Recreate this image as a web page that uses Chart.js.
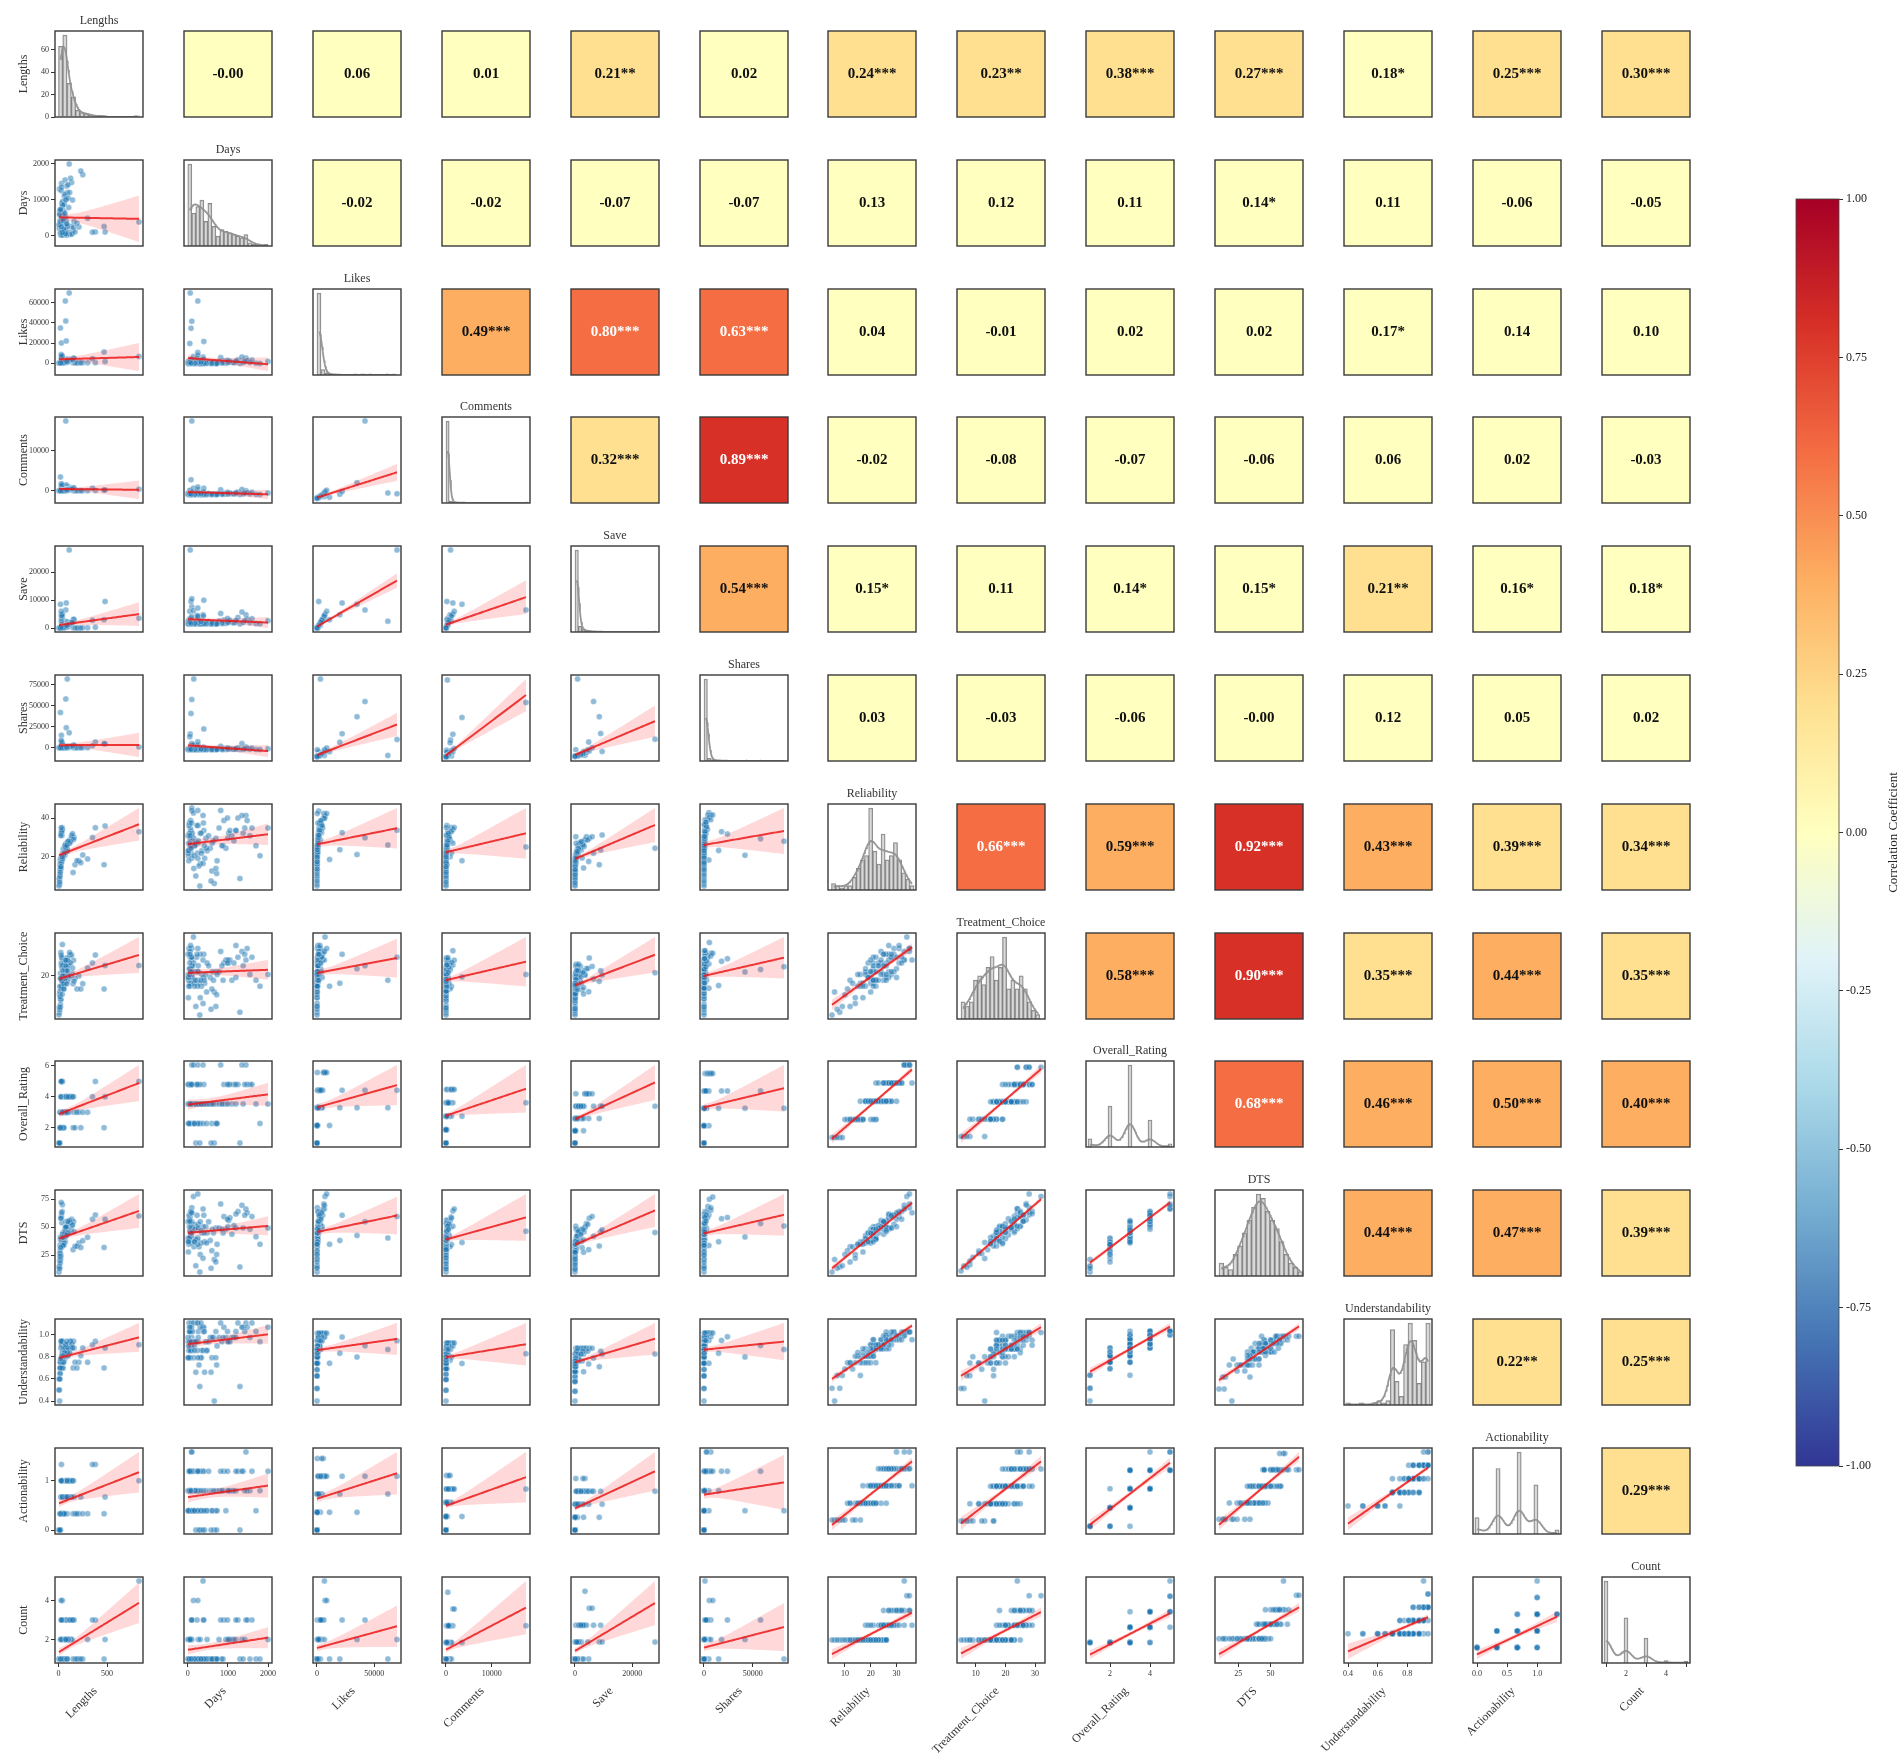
<!DOCTYPE html>
<html lang="en">
<head>
<meta charset="UTF-8">
<title>Pair plot with correlation coefficients</title>
<script src="https://cdn.jsdelivr.net/npm/chart.js"></script>
<style>
  body { margin: 0; background: #fff; }
  #figure { position: relative; width: 1902px; height: 1753px; overflow: hidden; }
  #figure canvas { position: absolute; }
</style>
</head>
<body>
<div id="figure"></div>
<script>
const varNames = ['Lengths', 'Days', 'Likes', 'Comments', 'Save', 'Shares', 'Reliability',
  'Treatment_Choice', 'Overall_Rating', 'DTS', 'Understandability', 'Actionability', 'Count'];

// one value per video, same order in every array
const lengths = [110, 70, 75, 20, 30, 80, 480, 90, 830, 380,
  150, 60, 20, 35, 70, 15, 95, 55, 10, 120,
  48, 210, 30, 65, 25, 80, 40, 140, 75, 22,
  12, 110, 52, 68, 300, 38, 45, 18, 90, 62,
  28, 170, 58, 42, 130, 14, 85, 50, 33, 160,
  66, 8, 72, 250, 40, 26, 105, 46, 55, 78,
  30, 135, 60, 88, 5, 100, 36, 64, 155, 20,
  44, 70, 32, 190, 82, 16, 58, 125, 38, 24,
  470, 76, 50, 115, 11, 350, 42, 68, 92, 18,
  98, 54, 28, 230, 74, 62, 145, 40, 86, 22];
const days = [60, 250, 100, 80, 50, 400, 100, 150, 380, 100,
  150, 1100, 350, 900, 220, 420, 80, 60, 1300, 30,
  700, 240, 1450, 90, 310, 1020, 560, 40, 120, 15,
  660, 2000, 180, 1550, 480, 820, 20, 280, 1200, 50,
  1250, 100, 450, 950, 260, 600, 1380, 75, 10, 390,
  1150, 200, 520, 1700, 140, 25, 780, 65, 45, 310,
  160, 1480, 880, 55, 300, 1050, 12, 640, 230, 380,
  850, 110, 1350, 340, 5, 720, 190, 1600, 470, 70,
  250, 1000, 410, 1200, 580, 95, 20, 40, 260, 700,
  1420, 170, 250, 1800, 55, 610, 990, 85, 330, 730];
const likes = [70000, 62000, 42000, 35000, 20000, 22000, 1500, 3000, 6500, 300,
  300, 1200, 80, 2500, 600, 150, 4000, 900, 50, 1800,
  450, 200, 5500, 700, 120, 1500, 350, 3200, 800, 60,
  30, 2200, 500, 1000, 250, 6000, 400, 90, 1300, 650,
  3800, 180, 750, 420, 2800, 70, 1100, 550, 230, 4500,
  850, 40, 1600, 380, 7000, 130, 2000, 480, 310, 1400,
  220, 3000, 600, 1700, 20, 2400, 340, 950, 5000, 110,
  520, 1250, 6500, 160, 1900, 45, 720, 3500, 270, 800,
  11000, 1050, 390, 2600, 25, 4200, 640, 1350, 880, 75,
  2100, 460, 8500, 190, 1150, 560, 3300, 290, 1600, 140];
const comments = [1000, 1200, 17500, 3500, 900, 1500, 200, 300, 400, 100,
  20, 150, 5, 300, 60, 10, 500, 90, 3, 250,
  40, 15, 900, 70, 8, 200, 30, 450, 80, 4,
  2, 350, 45, 120, 18, 1100, 35, 6, 180, 55,
  600, 12, 75, 38, 400, 5, 140, 50, 20, 700,
  95, 3, 220, 30, 1500, 9, 310, 42, 25, 190,
  16, 480, 52, 260, 1, 380, 28, 110, 800, 7,
  48, 170, 1200, 11, 290, 2, 65, 550, 22, 85,
  200, 130, 33, 420, 2, 650, 58, 160, 100, 5,
  340, 40, 1800, 14, 150, 60, 520, 24, 230, 10];
const saves = [28000, 2500, 6500, 8500, 4800, 9000, 9500, 900, 3500, 300,
  100, 600, 30, 1500, 250, 60, 2200, 400, 20, 900,
  180, 70, 3500, 300, 40, 800, 150, 1800, 350, 25,
  10, 1200, 220, 500, 90, 4000, 160, 35, 700, 280,
  2500, 65, 330, 170, 1600, 30, 550, 240, 95, 3000,
  380, 15, 850, 140, 5000, 50, 1100, 200, 120, 750,
  85, 1900, 260, 950, 8, 1400, 130, 450, 3200, 45,
  230, 650, 4500, 60, 1000, 18, 300, 2000, 110, 420,
  3000, 520, 150, 1300, 12, 2800, 280, 700, 380, 28,
  1200, 190, 6000, 75, 600, 250, 2100, 120, 900, 55];
const shares = [18000, 1000, 58000, 42000, 15000, 24000, 5000, 82000, 1000, 7000,
  50, 400, 10, 1200, 150, 20, 2000, 250, 5, 700,
  90, 30, 3000, 200, 15, 600, 80, 1500, 220, 8,
  3, 900, 120, 350, 40, 4000, 100, 12, 500, 180,
  2200, 25, 260, 110, 1300, 10, 400, 160, 45, 2600,
  280, 6, 650, 90, 5500, 20, 850, 130, 60, 550,
  35, 1700, 170, 700, 2, 1100, 70, 300, 3500, 18,
  140, 480, 7000, 28, 800, 4, 190, 1800, 55, 330,
  5000, 380, 85, 1000, 3, 2400, 160, 520, 260, 9,
  900, 110, 9000, 30, 420, 150, 1900, 65, 600, 22];
const reliability = [28, 22, 25, 18, 20, 27, 36, 24, 33, 35,
  12, 25, 19, 31, 22, 16, 27, 21, 8, 29,
  24, 18, 33, 21, 14, 26, 20, 30, 23, 17,
  6, 28, 21, 25, 19, 35, 22, 13, 27, 21,
  32, 16, 24, 20, 29, 11, 26, 21, 18, 30,
  23, 9, 25, 21, 34, 15, 28, 20, 22, 26,
  17, 31, 21, 24, 5, 27, 19, 23, 29, 14,
  21, 26, 33, 18, 25, 10, 22, 28, 20, 31,
  16, 24, 21, 27, 7, 30, 19, 26, 23, 12,
  28, 21, 35, 17, 25, 22, 32, 20, 26, 15];
const treatmentChoice = [25, 17, 22, 21, 16, 26, 24, 23, 24, 28,
  17, 17, 19, 23, 25, 16, 20, 21, 6, 28,
  20, 20, 24, 25, 11, 23, 18, 21, 22, 11,
  13, 19, 20, 19, 23, 27, 17, 16, 18, 23,
  25, 19, 19, 24, 20, 14, 22, 16, 19, 18,
  23, 8, 22, 17, 32, 15, 20, 20, 15, 26,
  16, 28, 17, 27, 5, 24, 18, 17, 26, 9,
  22, 18, 27, 15, 26, 12, 17, 25, 13, 29,
  15, 24, 17, 29, 7, 25, 18, 19, 22, 8,
  26, 15, 28, 15, 26, 20, 23, 20, 17, 19];
const overallRating = [4, 3, 4, 3, 3, 4, 4, 3, 5, 5,
  2, 3, 3, 4, 4, 3, 3, 3, 1, 4,
  3, 3, 5, 3, 2, 4, 3, 4, 3, 2,
  1, 3, 3, 4, 3, 5, 2, 2, 3, 3,
  4, 2, 3, 3, 4, 2, 3, 3, 3, 3,
  4, 1, 3, 3, 5, 2, 3, 3, 2, 4,
  2, 4, 3, 3, 1, 4, 3, 3, 4, 2,
  3, 3, 5, 3, 4, 2, 3, 4, 2, 4,
  2, 3, 3, 4, 1, 4, 3, 3, 3, 2,
  4, 2, 5, 2, 3, 3, 4, 3, 3, 2];
const dts = [54, 37, 50, 39, 35, 55, 57, 48, 60, 61,
  30, 40, 41, 54, 46, 34, 44, 43, 14, 55,
  45, 36, 60, 46, 24, 51, 35, 52, 45, 26,
  20, 45, 44, 44, 41, 64, 36, 30, 45, 42,
  58, 33, 46, 44, 48, 27, 45, 38, 37, 46,
  47, 15, 50, 38, 70, 32, 45, 41, 37, 50,
  34, 57, 41, 51, 10, 53, 34, 41, 55, 21,
  44, 42, 63, 33, 50, 24, 36, 54, 33, 58,
  32, 46, 41, 56, 13, 57, 34, 46, 45, 18,
  55, 34, 72, 32, 50, 44, 52, 41, 43, 32];
const understandability = [0.88, 0.81, 0.84, 0.75, 0.78, 0.91, 0.88, 0.81, 0.91, 0.94,
  0.7, 0.84, 0.75, 0.91, 0.81, 0.6, 0.88, 0.81, 0.5, 0.94,
  0.88, 0.75, 0.94, 0.78, 0.7, 0.81, 0.84, 0.91, 0.81, 0.7,
  0.4, 0.91, 0.81, 0.84, 0.75, 0.94, 0.7, 0.65, 0.88, 0.81,
  0.94, 0.75, 0.81, 0.84, 0.88, 0.7, 0.91, 0.75, 0.81, 0.88,
  0.84, 0.6, 0.81, 0.88, 0.94, 0.75, 0.84, 0.7, 0.81, 0.91,
  0.78, 0.91, 0.84, 0.88, 0.5, 0.81, 0.7, 0.84, 0.94, 0.75,
  0.81, 0.88, 0.91, 0.7, 0.84, 0.65, 0.81, 0.94, 0.75, 0.88,
  0.7, 0.81, 0.88, 0.84, 0.6, 0.91, 0.78, 0.88, 0.84, 0.7,
  0.88, 0.75, 0.94, 0.81, 0.91, 0.84, 0.88, 0.81, 0.94, 0.78];
const actionability = [1, 0.67, 1, 0.33, 0.67, 1, 0.67, 0.33, 1, 1.33,
  0.33, 0.67, 0.33, 1, 0.67, 0, 1, 0.67, 0, 1,
  0.67, 0.33, 1.33, 0.33, 0.33, 0.67, 0.67, 1, 0.67, 0.33,
  0, 1, 0.67, 0.67, 0.33, 1, 0.33, 0, 0.67, 0.67,
  1, 0.33, 0.67, 0.33, 0.67, 0.33, 1, 0.67, 0.33, 0.67,
  0.67, 0, 1, 0.33, 1, 0.33, 0.67, 0.67, 0.33, 1,
  0.33, 0.67, 0.67, 1, 0, 0.67, 0.33, 0.67, 1, 0,
  0.67, 0.33, 1, 0.33, 0.67, 0, 0.67, 1, 0.33, 0.67,
  0.33, 0.67, 0.33, 1, 0, 1.33, 0.67, 0.67, 1, 0.33,
  0.67, 0.33, 1, 0.67, 0.67, 0.33, 1, 0.67, 0.67, 0.33];
const count = [2, 1, 3, 2, 1, 3, 2, 1, 5, 3,
  1, 2, 1, 3, 1, 1, 2, 1, 1, 2,
  1, 1, 3, 2, 1, 2, 1, 2, 1, 1,
  1, 2, 1, 1, 2, 3, 1, 1, 2, 1,
  3, 1, 1, 2, 2, 1, 1, 1, 1, 3,
  2, 1, 1, 1, 4, 1, 2, 1, 1, 2,
  1, 3, 1, 2, 1, 2, 1, 1, 3, 1,
  1, 1, 2, 1, 2, 1, 1, 3, 1, 2,
  1, 2, 1, 3, 1, 3, 1, 1, 1, 1,
  2, 1, 4, 1, 2, 1, 3, 1, 1, 1];
const columns = [lengths, days, likes, comments, saves, shares, reliability,
  treatmentChoice, overallRating, dts, understandability, actionability, count];

// diagonal histograms (bin counts)
const histStart = [0, 0, 0, 0, 0, 0, 4.8, 5, 0.9, 10, 0.385, -0.035, 0.9];
const histWidth = [44, 100, 3500, 700, 1200, 3500, 1.6, 1.4, 0.2, 3.6, 0.03, 0.07, 0.2];
const lengthsHist = [63, 73, 30, 18, 6, 4, 3, 2, 1, 1, 1, 0, 0, 0, 0, 0, 0, 0, 1];
const daysHist = [50, 20, 24, 28, 15, 26, 12, 6, 10, 9, 8, 7, 6, 5, 7, 2, 1, 1, 0, 1];
const likesHist = [180, 12, 4, 2, 1, 1, 0, 0, 0, 1, 0, 1, 0, 1, 0, 0, 0, 1, 0, 1];
const commentsHist = [192, 4, 2, 1, 1, 1, 0, 0, 0, 0, 0, 0, 0, 0, 0, 0, 0, 0, 0, 0, 0, 0, 0, 0, 0, 1];
const savesHist = [175, 12, 5, 3, 2, 1, 1, 1, 0, 0, 0, 0, 0, 0, 0, 0, 0, 0, 0, 0, 0, 0, 0, 1];
const sharesHist = [185, 6, 3, 2, 1, 1, 1, 0, 0, 0, 0, 0, 1, 0, 0, 0, 1, 0, 0, 0, 0, 0, 0, 1];
const reliabilityHist = [3, 2, 1, 2, 2, 6, 10, 14, 16, 38, 18, 12, 26, 14, 16, 22, 14, 8, 5, 2];
const treatmentHist = [8, 6, 8, 18, 20, 16, 24, 29, 18, 24, 38, 14, 18, 14, 20, 14, 8, 4, 2];
const ratingHist = [10, 0, 0, 0, 0, 50, 0, 0, 0, 0, 100, 0, 0, 0, 0, 33, 0, 0, 0, 0, 4];
const dtsHist = [6, 4, 3, 10, 14, 20, 26, 32, 38, 36, 30, 26, 22, 16, 10, 6, 4, 2];
const understandHist = [1, 0, 0, 1, 0, 0, 1, 2, 1, 2, 35, 11, 4, 28, 38, 30, 10, 20, 38];
const actionHist = [20, 0, 0, 0, 0, 80, 0, 0, 0, 0, 100, 0, 0, 0, 60, 0, 0, 0, 0, 5, 0];
const countHist = [105, 0, 0, 0, 0, 58, 0, 0, 0, 0, 32, 0, 0, 0, 0, 3, 0, 0, 0, 0, 2];
const histCounts = [lengthsHist, daysHist, likesHist, commentsHist, savesHist, sharesHist,
  reliabilityHist, treatmentHist, ratingHist, dtsHist, understandHist, actionHist, countHist];

// upper triangle: correlation and significance stars, row by row
const corrValues = [
  [-0.001, 0.06, 0.01, 0.21, 0.02, 0.24, 0.23, 0.38, 0.27, 0.18, 0.25, 0.30],
  [-0.02, -0.02, -0.07, -0.07, 0.13, 0.12, 0.11, 0.14, 0.11, -0.06, -0.05],
  [0.49, 0.796, 0.63, 0.04, -0.01, 0.02, 0.02, 0.17, 0.14, 0.10],
  [0.32, 0.89, -0.02, -0.08, -0.07, -0.06, 0.06, 0.02, -0.03],
  [0.54, 0.15, 0.11, 0.14, 0.15, 0.21, 0.16, 0.18],
  [0.03, -0.03, -0.06, -0.001, 0.12, 0.05, 0.02],
  [0.66, 0.59, 0.92, 0.43, 0.39, 0.34],
  [0.58, 0.90, 0.35, 0.44, 0.35],
  [0.68, 0.46, 0.50, 0.402],
  [0.44, 0.47, 0.39],
  [0.22, 0.25],
  [0.29]
];
const corrStars = [
  ['', '', '', '**', '', '***', '**', '***', '***', '*', '***', '***'],
  ['', '', '', '', '', '', '', '*', '', '', ''],
  ['***', '***', '***', '', '', '', '', '*', '', ''],
  ['***', '***', '', '', '', '', '', '', ''],
  ['***', '*', '', '*', '*', '**', '*', '*'],
  ['', '', '', '', '', '', ''],
  ['***', '***', '***', '***', '***', '***'],
  ['***', '***', '***', '***', '***'],
  ['***', '***', '***', '***'],
  ['***', '***', '***'],
  ['**', '***'],
  ['***']
];

// tick labels: left column (per row) and bottom row (per column)
const yTickLabels = [['0', '20', '40', '60'], ['0', '1000', '2000'], ['0', '20000', '40000', '60000'],
  ['0', '10000'], ['0', '10000', '20000'], ['0', '25000', '50000', '75000'], ['20', '40'], ['20', '40'],
  ['2', '4', '6'], ['25', '50', '75'], ['0.4', '0.6', '0.8', '1.0'], ['0', '1'], ['2', '4']];
const xTickLabels = [['0', '500'], ['0', '1000', '2000'], ['0', '50000'], ['0', '10000'], ['0', '20000'],
  ['0', '50000'], ['10', '20', '30'], ['10', '20', '30'], ['2', '4'], ['25', '50'],
  ['0.4', '0.6', '0.8'], ['0.0', '0.5', '1.0'], ['2', '4']];
const cbarTicks = ['-1.00', '-0.75', '-0.50', '-0.25', '0.00', '0.25', '0.50', '0.75', '1.00'];

// RdYlBu reversed
const colorStops = ['#313695', '#4575b4', '#74add1', '#abd9e9', '#e0f3f8', '#ffffbf',
  '#fee090', '#fdae61', '#f46d43', '#d73027', '#a50026'];

const FONT = '"Liberation Serif", "Times New Roman", serif';
const NV = varNames.length;
const X0 = 55, Y0 = 31, SX = 128.9, SY = 128.8, CW = 88, CH = 86;
const fig = document.getElementById('figure');
Chart.defaults.font.family = FONT;

function cellLeft(c) { return Math.round(X0 + c * SX); }
function cellTop(r) { return Math.round(Y0 + r * SY); }
function padRange(lo, hi) { const d = (hi - lo) * 0.05 || 0.5; return [lo - d, hi + d]; }
function mean(a) { return a.reduce((s, v) => s + v, 0) / a.length; }

function fitLine(xs, ys) {
  const n = xs.length, mx = mean(xs), my = mean(ys);
  let sxx = 0, sxy = 0;
  for (let i = 0; i < n; i++) { sxx += (xs[i] - mx) ** 2; sxy += (xs[i] - mx) * (ys[i] - my); }
  const b = sxy / sxx, a = my - b * mx;
  let sse = 0;
  for (let i = 0; i < n; i++) sse += (ys[i] - a - b * xs[i]) ** 2;
  const s = Math.sqrt(sse / (n - 2));
  return { a, b, half: x => 1.984 * s * Math.sqrt(1 / n + (x - mx) ** 2 / sxx) };
}

function kdeCurve(counts, start, w) {
  const centers = counts.map((_, k) => start + (k + 0.5) * w);
  const n = counts.reduce((s, v) => s + v, 0);
  const m = counts.reduce((s, v, k) => s + v * centers[k], 0) / n;
  const sd = Math.sqrt(counts.reduce((s, v, k) => s + v * (centers[k] - m) ** 2, 0) / n);
  const bw = sd * Math.pow(n, -0.2);
  const nz = counts.map((v, k) => v > 0 ? k : -1).filter(k => k >= 0);
  const lo = centers[nz[0]], hi = centers[nz[nz.length - 1]];
  const pts = [];
  for (let g = 0; g <= 120; g++) {
    const x = lo + (hi - lo) * g / 120;
    let y = 0;
    counts.forEach((v, k) => { const z = (x - centers[k]) / bw; y += v * w * Math.exp(-0.5 * z * z) / (bw * Math.sqrt(2 * Math.PI)); });
    pts.push({ x, y });
  }
  return pts;
}

function cellColor(v) { return colorStops[5 + Math.trunc(v / 0.2)]; }

const framePlugin = {
  id: 'frame',
  afterDatasetsDraw(chart, args, opts) {
    const a = chart.chartArea, ctx = chart.ctx;
    ctx.save();
    ctx.strokeStyle = opts.color || '#3a3a3a';
    ctx.lineWidth = opts.width || 1.4;
    ctx.strokeRect(a.left, a.top, a.right - a.left, a.bottom - a.top);
    ctx.restore();
  }
};

const textPlugin = {
  id: 'panelText',
  afterDraw(chart, args, o) {
    const a = chart.chartArea, ctx = chart.ctx;
    const cx = (a.left + a.right) / 2, cy = (a.top + a.bottom) / 2;
    ctx.save();
    if (o.title) {
      ctx.font = `12px ${FONT}`; ctx.fillStyle = '#333';
      ctx.textAlign = 'center'; ctx.textBaseline = 'alphabetic';
      ctx.fillText(o.title, cx, a.top - 7);
    }
    if (o.center) {
      ctx.font = `bold 15px ${FONT}`; ctx.fillStyle = o.centerColor;
      ctx.textAlign = 'center'; ctx.textBaseline = 'middle';
      ctx.fillText(o.center, cx, cy);
    }
    if (o.xlabel) {
      ctx.translate(cx - 8, a.bottom + 22);
      ctx.rotate(-Math.PI / 4);
      ctx.font = `12px ${FONT}`; ctx.fillStyle = '#333';
      ctx.textAlign = 'right'; ctx.textBaseline = 'top';
      ctx.fillText(o.xlabel, 0, 0);
    }
    if (o.vlabel) {
      ctx.translate(chart.width - 8, cy);
      ctx.rotate(-Math.PI / 2);
      ctx.font = `13px ${FONT}`; ctx.fillStyle = '#222';
      ctx.textAlign = 'center'; ctx.textBaseline = 'middle';
      ctx.fillText(o.vlabel, 0, 0);
    }
    ctx.restore();
  }
};

function tickAxis(range, labels) {
  const map = new Map(labels.map(s => [Number(s), s]));
  return {
    type: 'linear', display: true, min: range[0], max: range[1], offset: false,
    grid: { display: true, drawOnChartArea: false, drawTicks: true, tickLength: 4, color: '#333', lineWidth: 1 },
    border: { display: false },
    ticks: { autoSkip: false, maxRotation: 0, minRotation: 0, padding: 2, color: '#333',
      font: { family: FONT, size: 8 }, callback: v => map.has(v) ? map.get(v) : '' },
    afterBuildTicks: s => {
      s.ticks = labels.map(Number).filter(v => v >= range[0] && v <= range[1]).map(v => ({ value: v }));
    }
  };
}

function hiddenAxis(range) {
  return { type: 'linear', display: false, min: range[0], max: range[1], offset: false };
}

function makeChart(r, c, type, data, xr, yr, text, heat) {
  const left = c === 0, bottom = r === NV - 1, diag = r === c;
  const pad = { l: left ? 55 : (bottom ? 80 : 14), t: diag ? 24 : 12, r: 14, b: bottom ? 90 : 12 };
  const canvas = document.createElement('canvas');
  canvas.width = CW + pad.l + pad.r;
  canvas.height = CH + pad.t + pad.b;
  canvas.style.left = (cellLeft(c) - pad.l) + 'px';
  canvas.style.top = (cellTop(r) - pad.t) + 'px';
  fig.appendChild(canvas);

  let xAxis, yAxis;
  if (heat) {
    xAxis = { type: 'category', display: false };
    yAxis = { type: 'linear', display: false, min: 0, max: 1 };
  } else {
    xAxis = bottom ? tickAxis(xr, xTickLabels[c]) : hiddenAxis(xr);
    yAxis = left ? tickAxis(yr, yTickLabels[r]) : hiddenAxis(yr);
    if (bottom) xAxis.afterFit = s => { s.height = pad.b; };
    if (left) {
      yAxis.afterFit = s => { s.width = pad.l; };
      yAxis.title = { display: true, text: varNames[r], color: '#333',
        font: { family: FONT, size: 12 }, padding: { top: 17, bottom: 0 } };
    }
  }
  new Chart(canvas, {
    type, data,
    options: {
      responsive: false, animation: false, events: [],
      layout: { padding: { left: left && !heat ? 0 : pad.l, right: pad.r, top: pad.t, bottom: bottom && !heat ? 0 : pad.b } },
      scales: { x: xAxis, y: yAxis },
      plugins: { legend: { display: false }, tooltip: { enabled: false }, panelText: text }
    },
    plugins: [framePlugin, textPlugin]
  });
}

function buildScatter(r, c) {
  const xs = columns[c], ys = columns[r];
  const x0 = Math.min(...xs), x1 = Math.max(...xs);
  const fit = fitLine(xs, ys);
  const line = [], upper = [], lower = [];
  for (let k = 0; k <= 60; k++) {
    const x = x0 + (x1 - x0) * k / 60;
    const y = fit.a + fit.b * x, h = fit.half(x);
    line.push({ x, y }); upper.push({ x, y: y + h }); lower.push({ x, y: y - h });
  }
  const yAll = ys.concat(upper.map(p => p.y), lower.map(p => p.y));
  const xr = padRange(x0, x1), yr = padRange(Math.min(...yAll), Math.max(...yAll));
  const datasets = [
    { type: 'scatter', data: xs.map((x, i) => ({ x, y: ys[i] })), pointRadius: 3,
      backgroundColor: 'rgba(31,119,180,0.5)', borderColor: 'rgba(255,255,255,0.6)', borderWidth: 0.5, order: 3 },
    { type: 'line', data: upper, borderWidth: 0, borderColor: 'transparent', pointRadius: 0,
      fill: '+1', backgroundColor: 'rgba(255,0,0,0.15)', order: 2 },
    { type: 'line', data: lower, borderWidth: 0, borderColor: 'transparent', pointRadius: 0, fill: false, order: 2 },
    { type: 'line', data: line, borderColor: 'rgba(235,25,25,0.85)', borderWidth: 2, pointRadius: 0, fill: false, order: 1 }
  ];
  makeChart(r, c, 'scatter', { datasets }, xr, yr,
    { xlabel: r === NV - 1 ? varNames[c] : null });
}

function buildDiag(i) {
  const counts = histCounts[i], start = histStart[i], w = histWidth[i];
  const bars = counts.map((y, k) => ({ x: start + (k + 0.5) * w, y }));
  const kde = kdeCurve(counts, start, w);
  const xs = columns[i];
  const xr = padRange(Math.min(...xs), Math.max(...xs));
  const ymax = Math.max(...counts, ...kde.map(p => p.y)) * 1.05;
  const datasets = [
    { type: 'bar', data: bars, backgroundColor: 'rgba(185,185,185,0.55)', borderColor: 'rgba(95,95,95,0.75)',
      borderWidth: 0.8, barPercentage: 1, categoryPercentage: 1, order: 2 },
    { type: 'line', data: kde, borderColor: 'rgba(145,145,145,0.95)', borderWidth: 1.8, pointRadius: 0, fill: false, order: 1 }
  ];
  makeChart(i, i, 'bar', { datasets }, xr, [0, ymax],
    { title: varNames[i], xlabel: i === NV - 1 ? varNames[i] : null });
}

function buildCorr(r, c) {
  const v = corrValues[r][c - r - 1];
  const label = v.toFixed(2) + corrStars[r][c - r - 1];
  const datasets = [{ data: [1], backgroundColor: cellColor(v), borderWidth: 0, barPercentage: 1, categoryPercentage: 1 }];
  makeChart(r, c, 'bar', { labels: [''], datasets }, null, null,
    { center: label, centerColor: Math.abs(v) >= 0.6 ? '#ffffff' : '#111111' }, true);
}

function buildColorbar() {
  const canvas = document.createElement('canvas');
  canvas.width = 132; canvas.height = 1305;
  canvas.style.left = '1770px'; canvas.style.top = '180px';
  fig.appendChild(canvas);
  new Chart(canvas, {
    type: 'bar',
    data: { labels: [''], datasets: [{
      data: [[-1, 1]], borderWidth: 0, barPercentage: 1, categoryPercentage: 1,
      backgroundColor: ctx => {
        const a = ctx.chart.chartArea;
        if (!a) return colorStops[5];
        const g = ctx.chart.ctx.createLinearGradient(0, a.bottom, 0, a.top);
        colorStops.forEach((col, k) => g.addColorStop(k / (colorStops.length - 1), col));
        return g;
      }
    }] },
    options: {
      responsive: false, animation: false, events: [],
      layout: { padding: { left: 26, top: 19, bottom: 19, right: 0 } },
      scales: {
        x: { display: false },
        y: { position: 'right', min: -1, max: 1,
          grid: { drawOnChartArea: false, drawTicks: true, tickLength: 4, color: '#333' },
          border: { display: false },
          ticks: { color: '#222', padding: 3, font: { family: FONT, size: 12 }, callback: v => v.toFixed(2) },
          afterBuildTicks: s => { s.ticks = cbarTicks.map(t => ({ value: Number(t) })); },
          afterFit: s => { s.width = 63; } }
      },
      plugins: { legend: { display: false }, tooltip: { enabled: false },
        frame: { width: 0.8, color: '#444' }, panelText: { vlabel: 'Correlation Coefficient' } }
    },
    plugins: [framePlugin, textPlugin]
  });
}

for (let r = 0; r < NV; r++) {
  for (let c = 0; c < NV; c++) {
    if (r === c) buildDiag(r);
    else if (c > r) buildCorr(r, c);
    else buildScatter(r, c);
  }
}
buildColorbar();
</script>
</body>
</html>
